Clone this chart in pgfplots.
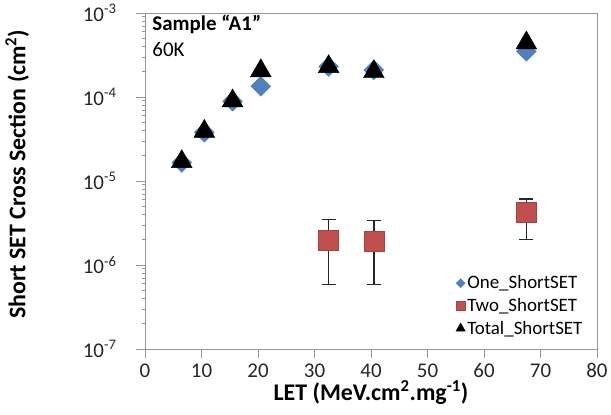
\documentclass[border=0pt]{standalone}
\usepackage{fontspec}
\setmainfont{Carlito}
\usepackage{pgfplots}
\pgfplotsset{compat=1.18}
\definecolor{xlblue}{RGB}{79,129,189}
\definecolor{xlred}{RGB}{192,80,77}
\definecolor{axgray}{RGB}{150,150,150}
\begin{document}
\begin{tikzpicture}
\begin{axis}[
  scale only axis, width=452bp, height=336bp,
  at={(0,0)}, anchor=south west,
  ymode=log, xmin=0, xmax=80, ymin=1e-7, ymax=1e-3,
  xtick={0,10,...,80},
  ytick={1e-7,1e-6,1e-5,1e-4,1e-3},
  yticklabels={10\textsuperscript{-7},10\textsuperscript{-6},10\textsuperscript{-5},10\textsuperscript{-4},10\textsuperscript{-3}},
  minor ytick={},
  /pgf/number format/assume math mode=true,
  axis line style={axgray, line width=0.8pt},
  tick style={axgray, line width=0.8pt},
  tick align=outside, major tick length=9bp,
  xtick pos=bottom, ytick pos=left,
  ticklabel style={font=\fontsize{21}{24}\selectfont, text=black!85},
  xticklabel style={yshift=-2bp},
  yticklabel style={xshift=-16bp},
  xlabel={\bfseries LET (MeV.cm\textsuperscript{2}.mg\textsuperscript{-1})},
  ylabel={\bfseries Short SET Cross Section (cm\textsuperscript{2})},
  label style={font=\fontsize{24}{28}\selectfont},
  xlabel style={at={(axis description cs:0.5,0)}, anchor=north, yshift=-31bp, inner sep=0pt},
  ylabel style={at={(axis description cs:-0.283,0.52)}, anchor=center, inner sep=0pt},
  legend style={draw=none, fill=none, at={(0.975,0.03)}, anchor=south east,
    font=\fontsize{19}{22}\selectfont, row sep=4bp, inner sep=1bp},
  legend cell align=left,
  legend image post style={scale=0.45},
  clip=false,
]
\addplot[only marks, mark=square*, mark options={rotate=45, fill=xlblue, draw=xlblue}, mark size=7bp]
  coordinates {(6.5,1.66e-5) (10.5,3.8e-5) (15.5,8.9e-5) (20.5,1.34e-4) (32.5,2.3e-4) (40.5,2.1e-4) (67.5,3.5e-4)};
\addlegendentry{One\_ShortSET}
\addplot[forget plot, draw=none, mark=none, error bars/.cd, y dir=both, y explicit,
  error bar style={black!85, line width=1.4pt}, error mark options={rotate=90, mark size=7bp, black!85, line width=1.4pt}]
  coordinates {(32.5,2.0e-6) += (0,1.5e-6) -= (0,1.41e-6)
               (40.5,1.9e-6) += (0,1.5e-6) -= (0,1.31e-6)
               (67.5,4.2e-6) += (0,1.9e-6) -= (0,2.2e-6)};
\addplot[only marks, mark=square*, mark options={fill=xlred, draw=xlred!85!black}, mark size=10bp]
  coordinates {(32.5,2.0e-6) (40.5,1.9e-6) (67.5,4.2e-6)};
\addlegendentry{Two\_ShortSET}
\addplot[only marks, mark=triangle*, mark options={fill=black, draw=black}, mark size=12bp]
  coordinates {(6.5,1.7e-5) (10.5,3.9e-5) (15.5,9.0e-5) (20.5,2.05e-4) (32.5,2.3e-4) (40.5,2.0e-4) (67.5,4.4e-4)};
\addlegendentry{Total\_ShortSET}
\node[anchor=base west, inner sep=0pt, font=\fontsize{21}{24}\selectfont\bfseries] at (rel axis cs:0.016,0.948) {Sample “A1”};
\node[anchor=base west, inner sep=0pt, font=\fontsize{21}{24}\selectfont] at (rel axis cs:0.016,0.872) {60K};
\end{axis}
\pgfresetboundingbox
\path (-145bp,-66bp) rectangle (466bp,349bp);
\end{tikzpicture}
\end{document}
